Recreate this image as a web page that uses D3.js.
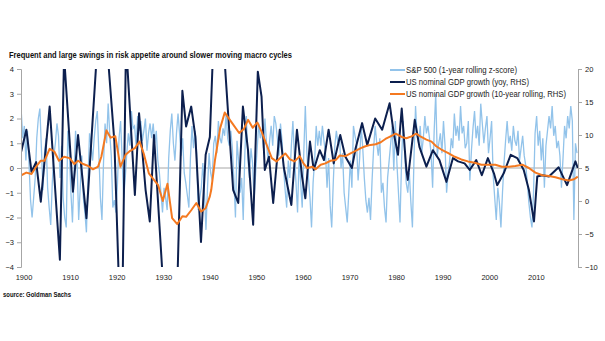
<!DOCTYPE html>
<html>
<head>
<meta charset="utf-8">
<script src="https://cdn.jsdelivr.net/npm/d3@7"></script>
<style>
  body { margin: 0; background: #fff; }
  svg { display: block; font-family: "Liberation Sans", Arial, sans-serif; }
</style>
</head>
<body>
<div id="chart"></div>
<script>
// S&P 500 1-year rolling z-score, every 4 months from 1899.4
var spStart = 1899.4, spStep = 1 / 3;
var spZ = [
  2.3, 1.2, 1.7, 0.3, 1.5, 0.2, -1.3, -2.0, -1.2, -0.4, 1.2, 2.0, 2.4, 0.8, -0.9, 0.6, 1.2, -0.8, -1.6, -2.3, -0.6, 0.5, 1.0, 1.8, 1.3, -0.4, 0.9, -1.2, -2.0, -2.4,
  1.5, 0.6, -1.0, -2.2, -0.3, 1.5, 0.2, -2.1, -0.8, 0.5, -1.2, -1.8, -2.6, -0.5, 1.4, 0.9, 0.3, 1.2, 1.9, 2.3, 0.6, -1.2, -2.1, 0.2, 1.8, 1.0, 2.6, 1.4, 0.5, -1.6,
  -1.3, -1.8, -0.6, 1.2, 1.9, 0.4, -1.2, -0.4, 0.6, 1.4, 0.9, 2.3, 1.6, 1.7, 0.9, 2.1, 1.5, 1.9, 1.1, 1.5, 2.0, 0.7, 1.4, 1.8, 1.2, 1.8, 1.0, 1.5, 0.3, -0.2,
  -1.0, -1.8, -0.8, -1.2, -1.7, 0.4, 1.5, 2.2, 1.0, 0.3, 1.4, 2.2, 1.4, 0.5, 1.2, -0.2, -0.6, -1.1, -1.6, 0.4, 1.7, 0.8, 1.5, 0.6, -1.7, -1.2, -0.8, 0.2, -1.0, -2.5,
  -0.8, 0.6, -0.2, -0.5, 1.0, 1.3, 0.6, 1.9, 1.2, 1.0, 1.6, 1.3, 2.2, 1.2, 0.9, 1.5, 0.8, -0.5, -2.0, 1.1, 0.3, -1.0, -0.4, -2.1, 0.5, 2.1, 0.4, -0.4, 0.8, 0.2,
  -1.3, -0.2, 0.8, 1.8, 1.2, 1.5, 0.8, 2.0, 1.0, 0.3, 1.1, 1.7, 0.9, 2.1, 1.8, 1.2, 0.5, 1.8, 1.1, 0.0, -0.9, -1.6, 0.3, -0.4, 0.9, 1.9, 0.4, -0.6, -1.8, 0.5,
  -0.6, -1.6, 0.6, 2.5, 0.6, -0.4, -1.2, -2.4, -0.6, 0.3, 1.7, 0.9, 1.5, 0.9, 1.7, 1.1, 0.6, -0.8, 0.4, -1.5, -2.4, -0.6, 0.9, 1.5, 1.0, 1.3, 0.0, 0.6, -1.0, -1.6,
  -2.2, -1.0, 0.3, -0.8, 1.7, 1.3, 1.0, -0.5, 0.4, 1.7, 0.8, -0.4, -1.3, -1.8, -1.2, -2.1, -0.5, 0.8, 1.7, 1.0, 0.5, 1.2, -1.0, -0.6, -1.6, -2.2, -0.4, 0.3, 1.0, 1.7,
  -0.1, 1.9, 0.2, -1.0, -2.2, 0.3, 1.9, 0.6, -0.6, -1.0, -0.2, -1.4, -2.4, 0.4, 2.5, 1.3, 1.0, 1.7, 0.6, 1.2, 2.1, 1.4, 1.7, 1.2, 0.6, -0.8, 1.5, 3.0, 0.5, 1.0,
  1.4, 0.6, 1.9, 0.9, -1.0, -0.2, 0.3, 1.2, 0.8, 2.2, 1.3, 1.7, 1.1, 2.5, 1.4, 1.7, 0.8, 1.0, 1.9, -0.5, 0.7, 1.6, 2.3, 1.2, 1.7, 0.9, 2.6, 1.8, 1.0, 1.6,
  2.1, 0.6, 1.2, 1.9, -0.3, -1.2, -2.1, -0.8, -1.4, -2.4, -1.0, 0.2, 1.1, 1.9, 1.0, 1.3, 0.7, 1.7, 1.1, 0.9, 1.5, 0.3, 0.8, 1.3, 0.5, 0.1, -0.6, -1.4, -2.0, -2.4,
  -1.0, 1.4, 2.1, 0.9, 1.5, 0.3, 1.2, -0.8, 0.9, 1.5, 2.1, 1.6, 2.5, 1.3, 1.7, 0.8, 1.1, 0.5, -0.8, 0.4, 1.7, 1.2, 2.1, 1.6, 2.5, 1.9, -2.1, 1.0, 0.6
];

// US nominal GDP growth, yoy (RHS)
var gdpYears = [1899.4, 1900.5, 1901.6, 1902.6, 1903.6, 1905.5, 1907.7, 1908.6, 1910.5, 1911.6, 1913.4, 1915.7, 1916.8, 1918.0, 1919.4,
  1920.4, 1921.1, 1921.9, 1923.8, 1924.7, 1926.1, 1927.0, 1927.9, 1929.8, 1931.0, 1932.5, 1934.0, 1934.8, 1935.9, 1936.8, 1938.0, 1939.0, 1939.9,
  1940.6, 1942.0, 1943.1, 1944.9, 1946.0, 1947.0, 1948.1, 1949.2, 1950.2, 1951.0, 1951.7, 1952.6, 1953.5, 1954.9, 1955.8, 1957.4, 1958.6, 1959.7,
  1960.4, 1961.4, 1962.2, 1963.5, 1964.4, 1965.4, 1966.5, 1967.9, 1969.0, 1970.4, 1971.2, 1972.6, 1973.7, 1975.4, 1976.9, 1978.5, 1979.4, 1980.3,
  1981.1, 1982.1, 1982.4, 1983.9, 1984.9, 1986.4, 1987.8, 1989.2, 1990.7, 1992.1, 1993.2, 1994.6, 1995.7, 1997.1, 1998.3, 1999.6,
  2000.9, 2001.6, 2003.0, 2004.5, 2005.9, 2007.3, 2008.4, 2009.5, 2010.2, 2011.3, 2012.7, 2014.8, 2016.6, 2018.4, 2018.9];
var gdpYoy = [7.5, 10.8, 4.4, 5.9, -0.1, 14.3, -8.9, 22, 1.4, 10.0, -2.6, 23, 26, 22, 9.0,
  -13, -16, 24, 0.9, 13.3, 1.7, -3.1, 10.0, -12, -17, -24, 16.7, 11.3, 14.3, 9.7, -6.2, 7.0, 9.7,
  23, 28, 21, 1.7, -0.3, 14.3, 7.7, -3.6, 19.6, 15.8, 4.7, 6.7, -0.3, 10.8, 5.0, -0.6, 10.8, 3.7,
  0.4, 9.0, 4.7, 7.7, 6.2, 10.8, 5.7, 10.0, 6.7, 5.0, 8.0, 11.8, 8.5, 12.5, 10.8, 14.8, 10.2, 7.0,
  14.0, 4.7, 3.2, 12.3, 8.2, 5.2, 7.7, 6.2, 2.9, 6.5, 6.0, 5.7, 4.7, 6.2, 3.9, 6.5,
  4.2, 2.4, 4.2, 7.0, 6.5, 4.7, 1.7, -3.1, 3.7, 3.9, 3.7, 5.1, 2.4, 6.0, 5.0];

// US nominal GDP growth, 10-year rolling (RHS)
var trendYears = [1899.4, 1900.5, 1901.6, 1902.6, 1903.6, 1904.4, 1905.5, 1906.5, 1907.5, 1908.6, 1909.8, 1910.8, 1911.6, 1912.7, 1913.8, 1914.8, 1915.9, 1916.6, 1917.7, 1918.6, 1919.6,
  1920.7, 1921.8, 1922.8, 1923.8, 1924.8, 1925.7, 1926.8, 1927.9, 1928.8, 1929.8, 1930.8, 1931.8, 1932.9, 1934.0, 1934.8, 1935.9, 1937.0, 1938.0, 1939.0, 1939.9,
  1940.2, 1941.0, 1942.1, 1943.1, 1944.5, 1946.2, 1947.2, 1948.1, 1949.1, 1950.1, 1951.0, 1952.1, 1953.2, 1954.2, 1955.3, 1956.1, 1957.1, 1958.1, 1959.2, 1960.0,
  1960.8, 1961.9, 1962.6, 1963.7, 1964.7, 1965.8, 1966.9, 1967.8, 1969.0, 1970.1, 1971.2, 1972.3, 1973.3, 1974.4, 1975.5, 1976.6, 1977.6, 1978.7, 1979.8,
  1981.1, 1982.1, 1983.2, 1984.2, 1985.3, 1986.4, 1987.5, 1988.5, 1989.6, 1991.0, 1992.5, 1993.9, 1995.3, 1996.8, 1998.2, 1999.6,
  2001.2, 2002.6, 2004.1, 2005.5, 2007.0, 2008.4, 2009.8, 2011.3, 2012.7, 2014.1, 2015.6, 2017.0, 2018.1, 2018.9];
var trendVals = [3.9, 4.3, 4.1, 5.2, 6.1, 6.1, 7.9, 7.5, 6.1, 6.7, 6.5, 5.6, 6.1, 5.6, 5.3, 4.8, 5.2, 6.7, 10.7, 9.6, 9.8,
  5.2, 7.0, 7.6, 8.0, 9.0, 7.2, 4.2, 3.2, 2.4, 0.0, 2.6, -2.6, -3.5, -2.3, -2.4, -1.4, -0.3, -1.6, -1.1, 0.7,
  1.7, 6.2, 11.0, 13.4, 12.0, 10.3, 10.9, 12.3, 11.1, 11.9, 10.5, 8.5, 6.5, 6.0, 6.7, 7.2, 6.3, 6.0, 6.8, 5.7,
  5.0, 5.2, 4.8, 5.5, 5.7, 6.1, 6.2, 6.9, 6.8, 7.2, 7.6, 8.0, 8.3, 8.5, 8.6, 8.9, 9.4, 9.8, 10.2,
  9.7, 9.5, 9.8, 10.2, 9.7, 9.3, 9.0, 8.3, 7.8, 7.3, 6.7, 6.3, 6.0, 5.8, 5.5, 5.5,
  5.5, 5.2, 5.2, 5.3, 5.5, 5.0, 4.3, 3.9, 3.8, 3.6, 3.3, 3.1, 3.3, 3.7];

var leftTicks = [-4, -3, -2, -1, 0, 1, 2, 3, 4];
var rightTicks = [-10, -5, 0, 5, 10, 15, 20];
var yearTicks = [1900, 1910, 1920, 1930, 1940, 1950, 1960, 1970, 1980, 1990, 2000, 2010];
var legendNames = ["S&P 500 (1-year rolling z-score)", "US nominal GDP growth (yoy, RHS)", "US nominal GDP growth (10-year rolling, RHS)"];
var legendWidths = [111, 123, 160];
var colors = ["#92c3ea", "#0c1f4e", "#f47920"];

var width = 605, height = 341;
var svg = d3.select("#chart").append("svg").attr("width", width).attr("height", height);

var x = d3.scaleLinear().domain([1899.35, 2018.95]).range([21, 578]);
var yL = d3.scaleLinear().domain([-4, 4]).range([267, 69]);
var yR = d3.scaleLinear().domain([-10, 20]).range([267, 69]);

svg.append("text").attr("x", 9).attr("y", 58)
  .attr("font-size", "9.3px").attr("font-weight", "bold").attr("fill", "#111")
  .attr("textLength", 283).attr("lengthAdjust", "spacingAndGlyphs")
  .text("Frequent and large swings in risk appetite around slower moving macro cycles");

svg.append("text").attr("x", 3).attr("y", 297)
  .attr("font-size", "6.5px").attr("font-weight", "bold").attr("fill", "#111")
  .attr("textLength", 68).attr("lengthAdjust", "spacingAndGlyphs")
  .text("source: Goldman Sachs");

svg.append("clipPath").attr("id", "plot")
  .append("rect").attr("x", 21).attr("y", 69).attr("width", 557).attr("height", 198);

// zero line
svg.append("line").attr("x1", 21).attr("x2", 578).attr("y1", yL(0)).attr("y2", yL(0))
  .attr("stroke", "#a6a6a6").attr("stroke-width", 1);

var g = svg.append("g").attr("clip-path", "url(#plot)");

var spData = spZ.map((v, i) => [spStart + i * spStep, v]);
g.append("path").datum(spData)
  .attr("fill", "none").attr("stroke", colors[0]).attr("stroke-width", 1.3)
  .attr("d", d3.line().x(d => x(d[0])).y(d => yL(d[1])));

var gdpData = gdpYears.map((t, i) => [t, gdpYoy[i]]);
g.append("path").datum(gdpData)
  .attr("fill", "none").attr("stroke", colors[1]).attr("stroke-width", 2)
  .attr("stroke-linejoin", "round")
  .attr("d", d3.line().x(d => x(d[0])).y(d => yR(d[1])));

var trendData = trendYears.map((t, i) => [t, trendVals[i]]);
g.append("path").datum(trendData)
  .attr("fill", "none").attr("stroke", colors[2]).attr("stroke-width", 2)
  .attr("stroke-linejoin", "round")
  .attr("d", d3.line().x(d => x(d[0])).y(d => yR(d[1])));

// axes
var axL = svg.append("g").attr("transform", "translate(21,0)")
  .call(d3.axisLeft(yL).tickValues(leftTicks).tickSize(4).tickPadding(3).tickFormat(d3.format("d")));
var axR = svg.append("g").attr("transform", "translate(578,0)")
  .call(d3.axisRight(yR).tickValues(rightTicks).tickSize(4).tickPadding(3).tickFormat(d3.format("d")));
[axL, axR].forEach(a => {
  a.select(".domain").attr("stroke", "#a6a6a6");
  a.selectAll(".tick line").attr("stroke", "#a6a6a6");
  a.selectAll("text").attr("font-size", "7.5px").attr("fill", "#222")
    .attr("font-family", "Liberation Sans, Arial, sans-serif");
});

svg.append("g").selectAll("text").data(yearTicks).join("text")
  .attr("x", d => x(d)).attr("y", 280).attr("text-anchor", "middle")
  .attr("font-size", "7.5px").attr("fill", "#222")
  .text(d => d);

// legend
var leg = svg.append("g").selectAll("g").data(legendNames).join("g")
  .attr("transform", (d, i) => `translate(390,${70 + i * 12})`);
leg.append("line").attr("x1", 0).attr("x2", 15).attr("y1", 0).attr("y2", 0)
  .attr("stroke", (d, i) => colors[i]).attr("stroke-width", 2);
leg.append("text").attr("x", 16).attr("y", 3)
  .attr("font-size", "8.2px").attr("fill", "#222")
  .attr("textLength", (d, i) => legendWidths[i]).attr("lengthAdjust", "spacingAndGlyphs")
  .text(d => d);
</script>
</body>
</html>
